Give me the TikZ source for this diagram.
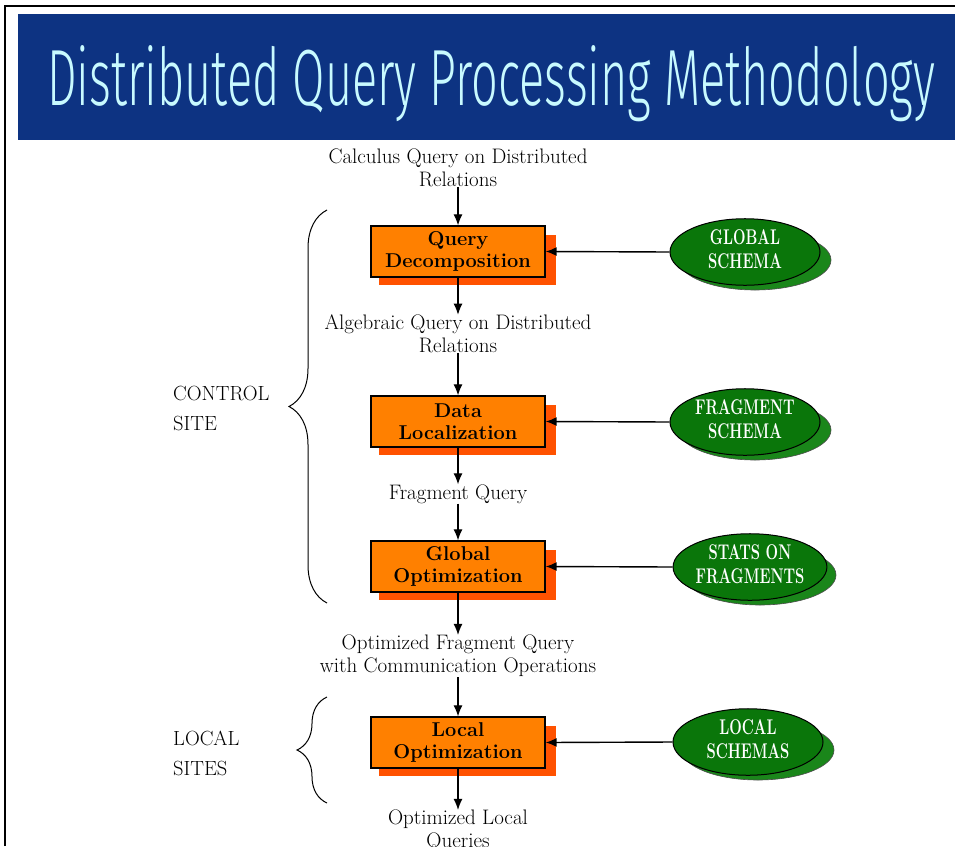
\documentclass[tikz,border=0pt]{standalone}
\usepackage{fontspec}
\newfontfamily\titlefont{Fira Sans Light}
\usetikzlibrary{shapes.geometric,decorations.pathreplacing,arrows.meta}
\definecolor{banner}{HTML}{0D3382}
\definecolor{titletxt}{HTML}{C8FAFF}
\definecolor{boxfill}{HTML}{FF8000}
\definecolor{boxshade}{HTML}{FF5200}
\definecolor{ovalfill}{HTML}{0A760A}
\definecolor{ovalshade}{HTML}{1A861A}
% two stacked bold lines, narrowed and slightly stretched, for the schema ovals
\newcommand{\ovallines}[2]{\scalebox{0.78}[1.12]{\bfseries\begin{tabular}{@{}c@{}}\bfseries #1\\\bfseries #2\end{tabular}}}
\tikzset{
  stage/.style={draw=black, line width=1.3pt, fill=boxfill, minimum width=174pt,
    minimum height=51pt, inner sep=0pt, align=center,
    font=\fontsize{20}{22}\selectfont\bfseries},
  stageshade/.style={fill=boxshade, minimum width=177pt, minimum height=50pt, inner sep=0pt},
  oval/.style={ellipse, draw=black, line width=1pt, fill=ovalfill, minimum width=150pt,
    minimum height=60pt, inner sep=0pt, align=center, text=white,
    font=\fontsize{19}{21}\selectfont},
  ovalshade/.style={ellipse, draw=black!70, line width=0.6pt, fill=ovalshade,
    minimum width=152pt, minimum height=60pt, inner sep=0pt},
  flowtext/.style={align=center, inner sep=0pt, font=\fontsize{21}{23}\selectfont},
  sidetext/.style={align=left, anchor=west, inner sep=0pt, font=\fontsize{20.5}{30}\selectfont},
  flow/.style={-{Latex[length=11pt,width=9pt]}, line width=1.2pt},
  feed/.style={-{Latex[length=11pt,width=9pt]}, line width=1.4pt},
  bracestyle/.style={decorate, decoration={brace, amplitude=38pt, aspect=0.5}, line width=1pt}
}
\begin{document}
\begin{tikzpicture}[x=1pt, y=-1pt]
\useasboundingbox (0,0) rectangle (955,846);
% page frame and title banner
\draw[line width=2pt] (5,846) -- (5,6) -- (955,6);
\fill[banner] (18,14) rectangle (955,140);
\node[text=titletxt, inner sep=0pt, anchor=base west] (title) at (47,105)
  {\resizebox{888pt}{60pt}{\titlefont Distributed Query Processing Methodology}};

% shadows behind the stage boxes
\node[stageshade] (qds) at (467,260) {};
\node[stageshade] (dls) at (467,430) {};
\node[stageshade] (gos) at (467,575) {};
\node[stageshade] (los) at (467,751) {};

% stage boxes
\node[stage] (qd) at (458,251.5) {Query\\Decomposition};
\node[stage] (dl) at (458,421.5) {Data\\Localization};
\node[stage] (go) at (458,566.5) {Global\\Optimization};
\node[stage] (lo) at (458,742.5) {Local\\Optimization};

% schema ovals with their shadows
\node[ovalshade] (gss) at (755,260) {};
\node[ovalshade] (fss) at (755,430) {};
\node[ovalshade] (sfs) at (760,575) {};
\node[ovalshade] (lss) at (758,750) {};
\node[oval] (gs) at (745,252) {\ovallines{GLOBAL}{SCHEMA}};
\node[oval] (fs) at (745,422) {\ovallines{FRAGMENT}{SCHEMA}};
\node[oval] (sf) at (750,567) {\ovallines{STATS ON}{FRAGMENTS}};
\node[oval] (ls) at (748,742) {\ovallines{LOCAL}{SCHEMAS}};

% intermediate query forms
\node[flowtext] (q0) at (458,168) {Calculus Query on Distributed\\Relations};
\node[flowtext] (q1) at (458,334) {Algebraic Query on Distributed\\Relations};
\node[flowtext] (q2) at (458,494) {Fragment Query};
\node[flowtext] (q3) at (458,656) {Optimized Fragment Query\\with Communication Operations};
\node[flowtext] (q4) at (458,831) {Optimized Local\\Queries};

% vertical flow
\draw[flow] (q0.south) -- (qd.north);
\draw[flow] (qd.south) -- (q1.north);
\draw[flow] (q1.south) -- (dl.north);
\draw[flow] (dl.south) -- (q2.north);
\draw[flow] (q2.south) -- (go.north);
\draw[flow] (go.south) -- (q3.north);
\draw[flow] (q3.south) -- (lo.north);
\draw[flow] (lo.south) -- (q4.north);

% schema inputs
\draw[feed] (gs.west) -- (qd.east);
\draw[feed] (fs.west) -- (dl.east);
\draw[feed] (sf.west) -- (go.east);
\draw[feed] (ls.west) -- (lo.east);

% site groupings
\coordinate (cb) at (327,603);
\coordinate (ct) at (327,210);
\coordinate (lb) at (327,803);
\coordinate (lt) at (327,697);
\draw[bracestyle] (cb) -- (ct);
\draw[bracestyle, decoration={amplitude=30pt}] (lb) -- (lt);
\node[sidetext] (cs) at (173,408) {CONTROL\\SITE};
\node[sidetext] (lsite) at (173,753) {LOCAL\\SITES};
\end{tikzpicture}
\end{document}
